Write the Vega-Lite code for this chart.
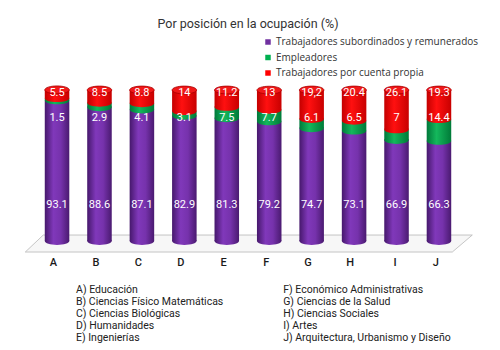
{
  "$schema": "https://vega.github.io/schema/vega-lite/v6.json",
  "autosize": {"type": "none"},
  "width": 446,
  "height": 176,
  "padding": {"left": 25, "top": 78, "right": 29, "bottom": 96},
  "background": "white",
  "config": {"view": {"stroke": null}},
  "title": {"text": "Por posición en la ocupación (%)", "anchor": "middle", "frame": "group", "font": "Roboto", "fontSize": 12.5, "fontWeight": "normal", "color": "#333333", "offset": 7},
  "data": {"values": [
    {"cat": "A", "series": "Trabajadores subordinados y remunerados", "order": 1, "value": 93.1, "label": "93.1"},
    {"cat": "A", "series": "Empleadores", "order": 2, "value": 1.5, "label": "1.5"},
    {"cat": "A", "series": "Trabajadores por cuenta propia", "order": 3, "value": 5.5, "label": "5.5"},
    {"cat": "B", "series": "Trabajadores subordinados y remunerados", "order": 1, "value": 88.6, "label": "88.6"},
    {"cat": "B", "series": "Empleadores", "order": 2, "value": 2.9, "label": "2.9"},
    {"cat": "B", "series": "Trabajadores por cuenta propia", "order": 3, "value": 8.5, "label": "8.5"},
    {"cat": "C", "series": "Trabajadores subordinados y remunerados", "order": 1, "value": 87.1, "label": "87.1"},
    {"cat": "C", "series": "Empleadores", "order": 2, "value": 4.1, "label": "4.1"},
    {"cat": "C", "series": "Trabajadores por cuenta propia", "order": 3, "value": 8.8, "label": "8.8"},
    {"cat": "D", "series": "Trabajadores subordinados y remunerados", "order": 1, "value": 82.9, "label": "82.9"},
    {"cat": "D", "series": "Empleadores", "order": 2, "value": 3.1, "label": "3.1"},
    {"cat": "D", "series": "Trabajadores por cuenta propia", "order": 3, "value": 14, "label": "14"},
    {"cat": "E", "series": "Trabajadores subordinados y remunerados", "order": 1, "value": 81.3, "label": "81.3"},
    {"cat": "E", "series": "Empleadores", "order": 2, "value": 7.5, "label": "7.5"},
    {"cat": "E", "series": "Trabajadores por cuenta propia", "order": 3, "value": 11.2, "label": "11.2"},
    {"cat": "F", "series": "Trabajadores subordinados y remunerados", "order": 1, "value": 79.2, "label": "79.2"},
    {"cat": "F", "series": "Empleadores", "order": 2, "value": 7.7, "label": "7.7"},
    {"cat": "F", "series": "Trabajadores por cuenta propia", "order": 3, "value": 13, "label": "13"},
    {"cat": "G", "series": "Trabajadores subordinados y remunerados", "order": 1, "value": 74.7, "label": "74.7"},
    {"cat": "G", "series": "Empleadores", "order": 2, "value": 6.1, "label": "6.1"},
    {"cat": "G", "series": "Trabajadores por cuenta propia", "order": 3, "value": 19.2, "label": "19,2"},
    {"cat": "H", "series": "Trabajadores subordinados y remunerados", "order": 1, "value": 73.1, "label": "73.1"},
    {"cat": "H", "series": "Empleadores", "order": 2, "value": 6.5, "label": "6.5"},
    {"cat": "H", "series": "Trabajadores por cuenta propia", "order": 3, "value": 20.4, "label": "20.4"},
    {"cat": "I", "series": "Trabajadores subordinados y remunerados", "order": 1, "value": 66.9, "label": "66.9"},
    {"cat": "I", "series": "Empleadores", "order": 2, "value": 7, "label": "7"},
    {"cat": "I", "series": "Trabajadores por cuenta propia", "order": 3, "value": 26.1, "label": "26.1"},
    {"cat": "J", "series": "Trabajadores subordinados y remunerados", "order": 1, "value": 66.3, "label": "66.3"},
    {"cat": "J", "series": "Empleadores", "order": 2, "value": 14.4, "label": "14.4"},
    {"cat": "J", "series": "Trabajadores por cuenta propia", "order": 3, "value": 19.3, "label": "19.3"}
  ]},
  "transform": [
    {"stack": "value", "groupby": ["cat"], "sort": [{"field": "order", "order": "ascending"}], "as": ["v0", "v1"]}
  ],
  "layer": [
    {
      "data": {"values": [{}]},
      "mark": {"type": "point", "filled": true, "opacity": 1, "size": 250000, "shape": "M -0.734 -0.034 L 0.982 -0.034 L 0.902 0.034 L -0.806 0.034 Z", "fill": "#f7f7f7", "stroke": "#b8b8b8", "strokeWidth": 0.8},
      "encoding": {
        "x": {"datum": "E", "type": "nominal"},
        "y": {"datum": -1.66, "type": "quantitative", "scale": {"domain": [-8.6, 107.95], "nice": false, "zero": false}, "axis": null}
      }
    },
    {
      "transform": [{"filter": "datum.order == 1"}],
      "mark": {"type": "bar", "fill": {"gradient": "linear", "x1": 0, "y1": 0, "x2": 1, "y2": 0, "stops": [{"offset": 0, "color": "#46186c"}, {"offset": 0.35, "color": "#8038ba"}, {"offset": 0.65, "color": "#7632ac"}, {"offset": 1, "color": "#4a1a70"}]}},
      "encoding": {
        "x": {"field": "cat", "type": "nominal", "scale": {"paddingInner": 0.422, "paddingOuter": 0.466}, "axis": {"title": null, "labelAngle": 0, "ticks": false, "domain": false, "labelPadding": 8, "labelFont": "Roboto", "labelFontSize": 11, "labelFontWeight": 500, "labelColor": "#1a1a1a"}},
        "y": {"field": "v0", "type": "quantitative", "scale": {"domain": [-8.6, 107.95], "nice": false, "zero": false}, "axis": null},
        "y2": {"field": "v1"}
      }
    },
    {
      "transform": [{"filter": "datum.order == 1"}],
      "mark": {"type": "point", "filled": true, "opacity": 1, "size": 600, "shape": "M -1 0 A 1 0.32 0 1 0 1 0 A 1 0.32 0 1 0 -1 0 Z", "fill": {"gradient": "linear", "x1": 0, "y1": 0, "x2": 1, "y2": 0, "stops": [{"offset": 0, "color": "#46186c"}, {"offset": 0.35, "color": "#8038ba"}, {"offset": 0.65, "color": "#7632ac"}, {"offset": 1, "color": "#4a1a70"}]}},
      "encoding": {
        "x": {"field": "cat", "type": "nominal"},
        "y": {"field": "v0", "type": "quantitative", "scale": {"domain": [-8.6, 107.95], "nice": false, "zero": false}, "axis": null}
      }
    },
    {
      "transform": [{"filter": "datum.order == 2"}],
      "mark": {"type": "bar", "fill": {"gradient": "linear", "x1": 0, "y1": 0, "x2": 1, "y2": 0, "stops": [{"offset": 0, "color": "#00783a"}, {"offset": 0.4, "color": "#14b85c"}, {"offset": 1, "color": "#007a38"}]}},
      "encoding": {
        "x": {"field": "cat", "type": "nominal"},
        "y": {"field": "v0", "type": "quantitative", "scale": {"domain": [-8.6, 107.95], "nice": false, "zero": false}, "axis": null},
        "y2": {"field": "v1"}
      }
    },
    {
      "transform": [{"filter": "datum.order == 2"}],
      "mark": {"type": "point", "filled": true, "opacity": 1, "size": 600, "shape": "M -1 0 A 1 0.32 0 1 0 1 0 A 1 0.32 0 1 0 -1 0 Z", "fill": {"gradient": "linear", "x1": 0, "y1": 0, "x2": 1, "y2": 0, "stops": [{"offset": 0, "color": "#00783a"}, {"offset": 0.4, "color": "#14b85c"}, {"offset": 1, "color": "#007a38"}]}},
      "encoding": {
        "x": {"field": "cat", "type": "nominal"},
        "y": {"field": "v0", "type": "quantitative", "scale": {"domain": [-8.6, 107.95], "nice": false, "zero": false}, "axis": null}
      }
    },
    {
      "transform": [{"filter": "datum.order == 3"}],
      "mark": {"type": "bar", "fill": {"gradient": "linear", "x1": 0, "y1": 0, "x2": 1, "y2": 0, "stops": [{"offset": 0, "color": "#c40000"}, {"offset": 0.4, "color": "#ff1010"}, {"offset": 1, "color": "#c80000"}]}},
      "encoding": {
        "x": {"field": "cat", "type": "nominal"},
        "y": {"field": "v0", "type": "quantitative", "scale": {"domain": [-8.6, 107.95], "nice": false, "zero": false}, "axis": null},
        "y2": {"field": "v1"}
      }
    },
    {
      "transform": [{"filter": "datum.order == 3"}],
      "mark": {"type": "point", "filled": true, "opacity": 1, "size": 600, "shape": "M -1 0 A 1 0.32 0 1 0 1 0 A 1 0.32 0 1 0 -1 0 Z", "fill": {"gradient": "linear", "x1": 0, "y1": 0, "x2": 1, "y2": 0, "stops": [{"offset": 0, "color": "#c40000"}, {"offset": 0.4, "color": "#ff1010"}, {"offset": 1, "color": "#c80000"}]}},
      "encoding": {
        "x": {"field": "cat", "type": "nominal"},
        "y": {"field": "v0", "type": "quantitative", "scale": {"domain": [-8.6, 107.95], "nice": false, "zero": false}, "axis": null}
      }
    },
    {
      "transform": [{"filter": "datum.order == 3"}],
      "mark": {"type": "point", "filled": true, "opacity": 1, "size": 600, "shape": "M -1 0 A 1 0.32 0 1 0 1 0 A 1 0.32 0 1 0 -1 0 Z", "fill": "#f01818", "stroke": "#a80000", "strokeWidth": 0.8},
      "encoding": {
        "x": {"field": "cat", "type": "nominal"},
        "y": {"field": "v1", "type": "quantitative", "scale": {"domain": [-8.6, 107.95], "nice": false, "zero": false}, "axis": null}
      }
    },
    {
      "transform": [{"filter": "datum.order == 1"}],
      "mark": {"type": "text", "color": "white", "font": "Roboto", "fontSize": 11, "baseline": "middle"},
      "encoding": {
        "x": {"field": "cat", "type": "nominal"},
        "y": {"datum": 23.8, "type": "quantitative", "scale": {"domain": [-8.6, 107.95], "nice": false, "zero": false}, "axis": null},
        "text": {"field": "label"}
      }
    },
    {
      "transform": [{"filter": "datum.order == 2"}],
      "mark": {"type": "text", "color": "white", "font": "Roboto", "fontSize": 11, "baseline": "middle"},
      "encoding": {
        "x": {"field": "cat", "type": "nominal"},
        "y": {"datum": 81.7, "type": "quantitative", "scale": {"domain": [-8.6, 107.95], "nice": false, "zero": false}, "axis": null},
        "text": {"field": "label"}
      }
    },
    {
      "transform": [{"filter": "datum.order == 3"}],
      "mark": {"type": "text", "color": "white", "font": "Roboto", "fontSize": 11, "baseline": "middle"},
      "encoding": {
        "x": {"field": "cat", "type": "nominal"},
        "y": {"datum": 98.2, "type": "quantitative", "scale": {"domain": [-8.6, 107.95], "nice": false, "zero": false}, "axis": null},
        "text": {"field": "label"}
      }
    },
    {
      "mark": {"type": "point", "opacity": 0, "filled": true},
      "encoding": {
        "x": {"field": "cat", "type": "nominal"},
        "y": {"field": "v1", "type": "quantitative", "scale": {"domain": [-8.6, 107.95], "nice": false, "zero": false}, "axis": null},
        "color": {
          "field": "series", "type": "nominal",
          "scale": {"domain": ["Trabajadores subordinados y remunerados", "Empleadores", "Trabajadores por cuenta propia"], "range": ["#7030a0", "#00b050", "#ff0000"]},
          "legend": {"title": null, "orient": "none", "legendX": 238, "legendY": -41, "padding": 0, "symbolType": "square", "symbolSize": 30, "symbolOpacity": 1, "symbolStrokeWidth": 0, "labelFont": "Open Sans", "labelFontSize": 10, "labelColor": "#333333", "labelOffset": 3, "labelLimit": 300, "rowPadding": 5.5}
        }
      }
    },
    {
      "data": {"values": [{}]},
      "mark": {"type": "text", "align": "left", "baseline": "top", "font": "Roboto", "fontSize": 10.5, "lineHeight": 12.1, "color": "#222222", "dx": 19,
        "text": ["A) Educación", "B) Ciencias Físico Matemáticas", "C) Ciencias Biológicas", "D) Humanidades", "E) Ingenierías"]},
      "encoding": {
        "x": {"datum": "A", "type": "nominal"},
        "y": {"datum": -29.1, "type": "quantitative", "scale": {"domain": [-8.6, 107.95], "nice": false, "zero": false}, "axis": null}
      }
    },
    {
      "data": {"values": [{}]},
      "mark": {"type": "text", "align": "left", "baseline": "top", "font": "Roboto", "fontSize": 10.5, "lineHeight": 12.1, "color": "#222222", "dx": 14,
        "text": ["F) Económico Administrativas", "G) Ciencias de la Salud", "H) Ciencias Sociales", "I) Artes", "J) Arquitectura, Urbanismo y Diseño"]},
      "encoding": {
        "x": {"datum": "F", "type": "nominal"},
        "y": {"datum": -29.1, "type": "quantitative", "scale": {"domain": [-8.6, 107.95], "nice": false, "zero": false}, "axis": null}
      }
    }
  ]
}
